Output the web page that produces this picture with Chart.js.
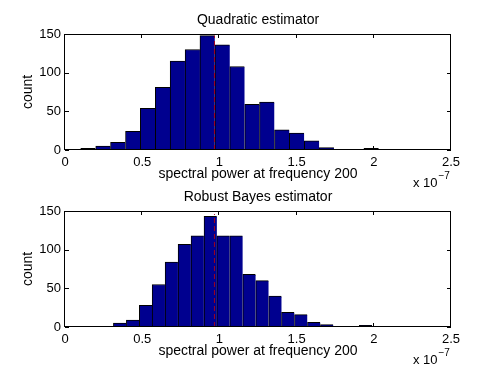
<!DOCTYPE html>
<html lang="en">
<head>
  <meta charset="UTF-8">
  <title>Spectral power histograms</title>
  <script src="https://cdn.jsdelivr.net/npm/chart.js"></script>
  <style>
    html, body { margin: 0; padding: 0; background: #fff; }
    #wrap { position: relative; width: 497px; height: 374px; overflow: hidden; }
    canvas { position: absolute; left: 0; }
  </style>
</head>
<body>
  <div id="wrap">
    <canvas id="topChart" width="497" height="192" style="top:0px;"></canvas>
    <canvas id="bottomChart" width="497" height="197" style="top:177px;"></canvas>
  </div>

  <script>
    // histogram bins (units of 1e-7)
    const topBinCenters = [0.150, 0.247, 0.343, 0.440, 0.536, 0.633, 0.729, 0.826, 0.922, 1.019,
                           1.115, 1.212, 1.308, 1.405, 1.501, 1.598, 1.694, 1.791, 1.887, 1.984];
    const topCounts = [2, 5, 10, 24, 54, 81, 115, 130, 148, 136,
                       108, 59, 62, 26, 22, 12, 3, 0, 0, 2];

    const bottomBinCenters = [0.355, 0.439, 0.523, 0.606, 0.690, 0.774, 0.858, 0.942, 1.025, 1.109,
                              1.193, 1.277, 1.361, 1.444, 1.528, 1.612, 1.696, 1.780, 1.863, 1.947];
    const bottomCounts = [5, 9, 28, 55, 84, 107, 118, 143, 118, 118,
                          68, 60, 40, 19, 16, 6, 3, 1, 0, 2];

    // true value marker (dashed line)
    const trueValue = 0.968;
    const topMarkerHeight = 148;
    const bottomMarkerHeight = 146;

    const xTickLabels = ['0', '0.5', '1', '1.5', '2', '2.5'];
    const yTickLabels = ['0', '50', '100', '150'];

    const FONT = "'Liberation Sans', Arial, Helvetica, sans-serif";
    const barFill = '#00008F';
    const markerColor = '#A0001E';

    // MATLAB style box, inward ticks and the x 10^-7 multiplier
    const axesBox = {
      id: 'axesBox',
      beforeDatasetsDraw(chart) {
        const { ctx, chartArea: ca, scales: { x, y } } = chart;
        const L = Math.round(ca.left), R = Math.round(ca.right);
        const T = Math.round(ca.top), B = Math.round(ca.bottom);
        ctx.save();
        ctx.strokeStyle = '#000';
        ctx.lineWidth = 1;
        ctx.beginPath();
        x.ticks.forEach(t => {
          const px = Math.round(x.getPixelForValue(t.value)) - 0.5;
          ctx.moveTo(px, B); ctx.lineTo(px, B - 4);
          ctx.moveTo(px, T); ctx.lineTo(px, T + 4);
        });
        y.ticks.forEach(t => {
          const py = Math.round(y.getPixelForValue(t.value)) + 0.5;
          ctx.moveTo(L, py); ctx.lineTo(L + 4, py);
          ctx.moveTo(R, py); ctx.lineTo(R - 4, py);
        });
        ctx.stroke();
        ctx.restore();
      },
      afterDatasetsDraw(chart) {
        const { ctx, chartArea: ca } = chart;
        const L = Math.round(ca.left) - 0.5, R = Math.round(ca.right) - 0.5;
        const T = Math.round(ca.top) + 0.5, B = Math.round(ca.bottom) - 0.5;
        ctx.save();
        ctx.strokeStyle = '#000';
        ctx.lineWidth = 1;
        ctx.strokeRect(L, T, R - L, B - T);
        ctx.restore();
      },
      afterDraw(chart) {
        const { ctx } = chart;
        ctx.save();
        ctx.fillStyle = '#000';
        ctx.textBaseline = 'alphabetic';
        ctx.textAlign = 'left';
        ctx.font = '13px ' + FONT;
        ctx.fillText('x 10', 413, 187);
        ctx.font = '10px ' + FONT;
        ctx.fillText('\u22127', 438.5, 179);
        ctx.restore();
      }
    };

    function makeHist(id, title, centers, counts, markerHeight, xTitlePadBottom, xAxisHeight) {
      const bars = centers.map((c, i) => ({ x: c, y: counts[i] }));
      return new Chart(document.getElementById(id), {
        type: 'bar',
        data: {
          datasets: [
            {
              type: 'line',
              data: [{ x: trueValue, y: 0 }, { x: trueValue, y: markerHeight }],
              borderColor: markerColor,
              borderWidth: 1,
              borderDash: [5, 3],
              pointRadius: 0,
              fill: false,
              order: 0
            },
            {
              type: 'bar',
              data: bars,
              backgroundColor: barFill,
              borderColor: '#000',
              borderWidth: { top: 1, left: 1, right: 0, bottom: 0 },
              borderSkipped: false,
              barPercentage: 1,
              categoryPercentage: 1,
              order: 1
            }
          ]
        },
        options: {
          responsive: false,
          animation: false,
          layout: { padding: { left: 0, right: 46, top: 0, bottom: 0 } },
          plugins: {
            legend: { display: false },
            tooltip: { enabled: false },
            title: {
              display: true,
              fullSize: false,
              text: title,
              color: '#000',
              font: { family: FONT, size: 14, weight: 'normal' },
              padding: { top: 12, bottom: 5.2 }
            }
          },
          scales: {
            x: {
              type: 'linear',
              offset: false,
              min: 0,
              max: 2.5,
              grid: { display: false, drawTicks: false },
              border: { display: false },
              ticks: {
                stepSize: 0.5,
                padding: 4.5,
                color: '#000',
                font: { family: FONT, size: 13 },
                maxRotation: 0,
                callback: (v, i) => xTickLabels[i]
              },
              title: {
                display: true,
                text: 'spectral power at frequency 200',
                color: '#000',
                font: { family: FONT, size: 14 },
                padding: { top: 0, bottom: xTitlePadBottom }
              },
              afterFit: s => { s.height = xAxisHeight; }
            },
            y: {
              min: 0,
              max: 150,
              grid: { display: false, drawTicks: false },
              border: { display: false },
              ticks: {
                stepSize: 50,
                padding: 4,
                color: '#000',
                font: { family: FONT, size: 13 },
                callback: (v, i) => yTickLabels[i]
              },
              title: {
                display: true,
                text: 'count',
                color: '#000',
                font: { family: FONT, size: 14 },
                padding: { top: 19.4, bottom: 0 }
              },
              afterFit: s => { s.width = 65; }
            }
          }
        },
        plugins: [axesBox]
      });
    }

    makeHist('topChart', 'Quadratic estimator',
             topBinCenters, topCounts, topMarkerHeight, 9.8, 42);
    makeHist('bottomChart', 'Robust Bayes estimator',
             bottomBinCenters, bottomCounts, bottomMarkerHeight, 14.8, 47);
  </script>
</body>
</html>
